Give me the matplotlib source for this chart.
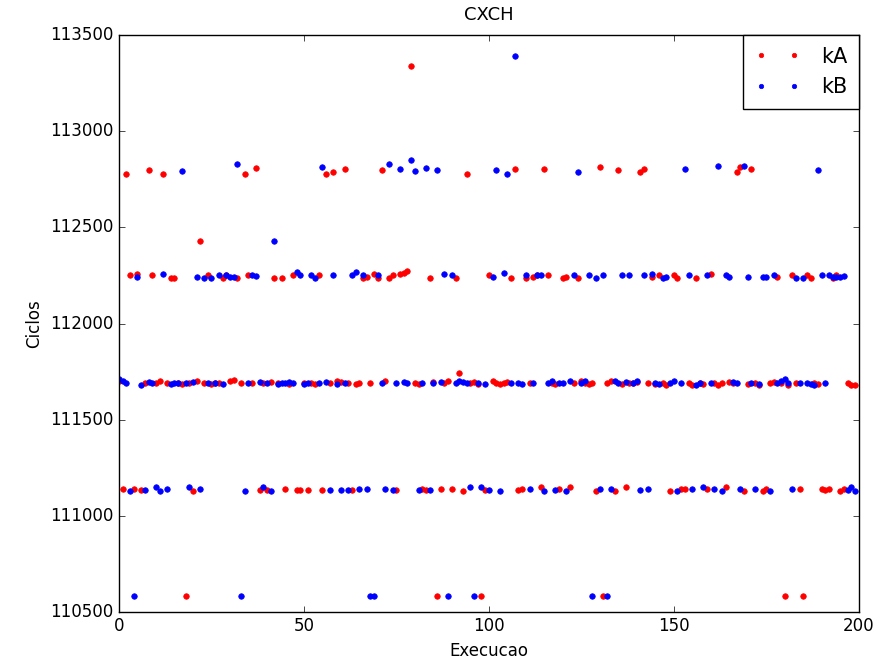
import numpy as np
import matplotlib
matplotlib.use('Agg')
import matplotlib.pyplot as plt

plt.style.use('classic')

# execucao 0..199
execucao = list(range(200))

kA = [111700, 111140, 112780, 112250, 111140, 112260, 111135, 111690, 112800, 112250,
      111690, 111700, 112780, 111690, 112235, 112235, 111690, 111685, 110580, 111690,
      111130, 111700, 112430, 111690, 112250, 111685, 111690, 111690, 112235, 112250,
      111700, 111705, 112235, 111690, 112780, 112255, 111690, 112810, 111135, 111690,
      111135, 111695, 112235, 111690, 112235, 111140, 111685, 112250, 111135, 111135,
      111690, 111135, 111690, 111685, 112255, 111135, 112780, 111690, 112790, 111700,
      111695, 112805, 111690, 111135, 111685, 111690, 112235, 112240, 111690, 112260,
      112235, 112800, 111700, 112235, 112250, 111135, 112258, 112265, 112275, 113340,
      111690, 111685, 111140, 111135, 112235, 111695, 110580, 111140, 111690, 111700,
      111140, 112235, 111745, 111130, 112780, 111690, 111695, 111685, 110580, 111135,
      112255, 111700, 111690, 111685, 111690, 111695, 112235, 112805, 111135, 111140,
      112235, 111690, 112240, 112250, 111150, 112805, 112255, 111690, 111685, 111140,
      112235, 112240, 111150, 111690, 112235, 111700, 111690, 111685, 111690, 111130,
      112815, 110580, 111690, 111700, 111130, 112800, 111685, 111150, 111690, 111690,
      111695, 112790, 112805, 111690, 112240, 111685, 112250, 111690, 111680, 111130,
      112255, 112235, 111140, 111140, 111690, 111680, 112235, 111690, 111685, 111140,
      112260, 111690, 111680, 111690, 111150, 111695, 111690, 112790, 112815, 111130,
      111685, 112805, 111690, 111680, 111130, 111140, 111690, 111695, 112240, 111690,
      110580, 111680, 112255, 111690, 111140, 110580, 112250, 112235, 111690, 111685,
      111140, 111135, 111140, 112235, 112250, 111130, 111140, 111690, 111680, 111680]

kB = [111710, 111700, 111690, 111130, 110580, 112240, 111680, 111135, 111695, 111690,
      111150, 111130, 112260, 111140, 111685, 111690, 111690, 112795, 111690, 111150,
      111695, 112240, 111140, 112235, 111690, 112235, 111690, 112250, 111685, 112250,
      112240, 112240, 112830, 110580, 111130, 111690, 112255, 112245, 111695, 111150,
      111690, 111130, 112430, 111685, 111690, 111690, 111695, 111690, 112270, 112255,
      111685, 111690, 112250, 112235, 111690, 112815, 111695, 111135, 112250, 111685,
      111135, 111690, 111135, 112255, 112270, 111140, 112255, 111140, 110580, 110580,
      112250, 111690, 111140, 112830, 111135, 111690, 112805, 111695, 111690, 112850,
      112795, 111135, 111690, 112808, 111135, 111690, 112800, 111695, 112260, 110580,
      112255, 111690, 111700, 111695, 111690, 111150, 110580, 111690, 111150, 111685,
      111135, 112240, 112800, 111130, 112265, 112780, 111690, 113390, 111690, 111685,
      112250, 111140, 111690, 112250, 112250, 111130, 111690, 111700, 111135, 111690,
      111690, 111130, 111700, 112250, 112790, 111690, 111700, 112250, 110580, 112235,
      111140, 112250, 110580, 111140, 111700, 111690, 112250, 111695, 112255, 111690,
      111700, 111135, 112250, 111140, 112260, 111690, 111685, 112235, 112240, 111690,
      111700, 111130, 111690, 112805, 112255, 111140, 111680, 111690, 111150, 112255,
      111690, 111140, 112822, 111130, 112250, 112240, 111695, 111690, 111140, 112822,
      112240, 111690, 111140, 111685, 112240, 112240, 111130, 112250, 111690, 111700,
      111710, 111690, 111140, 112235, 111690, 112235, 111690, 111685, 111680, 112800,
      112255, 111690, 112255, 112240, 112240, 112240, 112245, 111135, 111150, 111130]

fig = plt.figure(figsize=(8.78, 6.65), dpi=100, facecolor='white')
ax = fig.add_axes([0.1355, 0.080, 0.8425, 0.867])
ax.set_facecolor('white')

ax.plot(execucao, kA, 'r.', markersize=8, label='kA')
ax.plot(execucao, kB, 'b.', markersize=8, label='kB')

ax.set_xlim(0, 200)
ax.set_ylim(110500, 113500)
ax.set_xticks(np.arange(0, 201, 50))
ax.set_yticks(np.arange(110500, 113501, 500))
ax.ticklabel_format(useOffset=False, style='plain', axis='y')
ax.tick_params(labelsize=12)

ax.set_title('CXCH', fontsize=13, pad=11)
ax.set_xlabel('Execucao', fontsize=12)
ax.set_ylabel('Ciclos', fontsize=12)

leg = ax.legend(loc='upper right', numpoints=2, fontsize=15, borderaxespad=0,
                markerscale=0.8, handlelength=2.2, handletextpad=1.0,
                labelspacing=0.5, borderpad=0.55)

fig.savefig('out.png', dpi=100, facecolor='white')
